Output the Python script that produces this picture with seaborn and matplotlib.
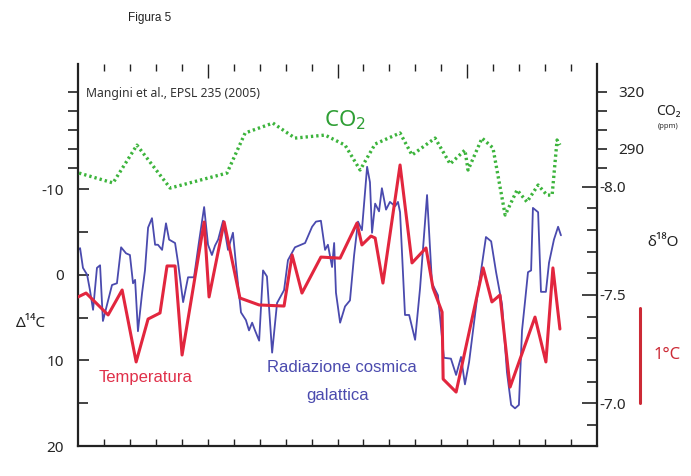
import matplotlib
matplotlib.use("Agg")
import matplotlib.pyplot as plt
import matplotlib.transforms as mtransforms
from matplotlib.ticker import FixedLocator, NullFormatter
import seaborn as sns
import pandas as pd

# ---------------- data ----------------
co2_year = [4, 135, 227, 355, 574, 644, 751, 836, 952, 1029, 1087, 1145, 1241, 1287,
            1376, 1434, 1491, 1503, 1557, 1599, 1646, 1692, 1730, 1773, 1807, 1827, 1846, 1857]
co2_ppm = [277.2, 272.0, 291.9, 269.3, 277.2, 298.3, 303.5, 295.6, 297.2, 291.9, 278.8, 292.5,
           298.3, 286.7, 295.6, 282.0, 289.3, 278.8, 295.6, 290.4, 255.1, 268.3, 262.0, 270.9,
           265.6, 265.6, 294.6, 292.0]

temp_year = [0, 31, 116, 170, 224, 270, 316, 343, 374, 401, 486, 505, 563, 624, 698, 794, 825,
             863, 936, 1010, 1075, 1094, 1129, 1145, 1175, 1241, 1287, 1341, 1368, 1403, 1407,
             1457, 1561, 1595, 1626, 1665, 1761, 1803, 1830, 1857]
temp_d18o = [-7.491, -7.509, -7.408, -7.523, -7.191, -7.389, -7.417, -7.634, -7.634, -7.223,
             -7.837, -7.491, -7.837, -7.486, -7.454, -7.449, -7.685, -7.509, -7.675, -7.670,
             -7.832, -7.731, -7.772, -7.763, -7.555, -8.100, -7.648, -7.717, -7.532, -7.421,
             -7.112, -7.052, -7.625, -7.468, -7.500, -7.075, -7.398, -7.191, -7.625, -7.343]

rad_year = [0, 8, 19, 35, 46, 58, 73, 85, 96, 116, 131, 150, 166, 185, 200, 212, 220, 231, 247,
            258, 270, 285, 297, 308, 324, 339, 351, 374, 385, 405, 424, 447, 466, 486, 501, 516,
            528, 540, 559, 578, 597, 609, 628, 647, 659, 671, 682, 698, 713, 728, 748, 767, 794,
            809, 836, 875, 902, 917, 936, 952, 963, 979, 987, 994, 1010, 1029, 1048, 1064, 1079,
            1094, 1114, 1125, 1133, 1145, 1160, 1171, 1187, 1202, 1222, 1233, 1241, 1260, 1276,
            1299, 1318, 1345, 1364, 1387, 1410, 1437, 1457, 1476, 1491, 1507, 1538, 1572, 1592,
            1611, 1634, 1653, 1669, 1684, 1699, 1711, 1723, 1734, 1746, 1753, 1773, 1784, 1803,
            1815, 1834, 1850, 1861]
rad_d14c = [-2.9, -3.1, -0.8, 0.0, 1.8, 4.1, -0.8, -1.1, 5.4, 3.0, 1.2, 1.0, -3.2, -2.5, -2.3,
            1.0, 0.6, 6.6, 2.1, -0.5, -5.5, -6.6, -3.5, -3.5, -2.9, -6.0, -4.1, -3.7, -1.5, 3.2,
            0.3, 0.3, -3.8, -7.9, -3.5, -2.3, -3.4, -4.1, -6.3, -2.9, -4.9, -1.1, 4.4, 5.3, 6.5,
            5.6, 6.5, 7.7, -0.5, 0.2, 9.1, 3.3, 1.8, -1.7, -3.2, -3.7, -5.6, -6.2, -6.3, -2.9,
            -3.5, -0.9, -3.7, 2.1, 5.6, 3.7, 3.0, -2.3, -6.2, -5.2, -12.6, -10.8, -4.9, -8.3,
            -7.4, -10.1, -7.6, -8.5, -8.0, -8.5, -7.3, 4.7, 4.7, 7.6, 1.6, -9.3, 1.0, 2.4, 9.7,
            9.8, 11.7, 9.6, 12.8, 10.2, 2.7, -4.4, -3.9, -0.3, 3.5, 11.4, 15.2, 15.6, 15.2, 6.5,
            3.0, -0.3, -0.5, -7.8, -7.3, 2.0, 2.0, -1.4, -4.1, -5.6, -4.6]

x_ticks = [500, 1000, 1500, 2000]
d14c_ticks = [-10, 0, 10, 20]
d14c_minor = [-5, 5, 15]
d18o_ticks = [-8.0, -7.5, -7.0]
d18o_minor = [-7.9, -7.8, -7.7, -7.6, -7.4, -7.3, -7.2, -7.1, -6.9]
co2_ticks = [290, 320]
co2_minor = [280, 300, 310]
scale_bar = [-7.44, -7.0]

# ---------------- style ----------------
sns.set_theme(style="white")
plt.rcParams['font.family'] = ['Noto Sans', 'DejaVu Sans']

C_RED = '#e2263e'
C_BLUE = '#4a4aae'
C_GREEN = '#3cb43c'
C_AX = '#222222'
C_LBL = '#262626'

fig = plt.figure(figsize=(6.91, 4.76), dpi=100)
ax = fig.add_axes([0.1129, 0.0630, 0.7511, 0.8025])
ax2 = ax.twinx()
ax3 = ax.twinx()

df_rad = pd.DataFrame({'year': rad_year, 'val': rad_d14c})
df_temp = pd.DataFrame({'year': temp_year, 'val': temp_d18o})
df_co2 = pd.DataFrame({'year': co2_year, 'val': co2_ppm})

sns.lineplot(data=df_rad, x='year', y='val', ax=ax, color=C_BLUE, lw=1.3, sort=False)
sns.lineplot(data=df_temp, x='year', y='val', ax=ax2, color=C_RED, lw=2.2, sort=False)
sns.lineplot(data=df_co2, x='year', y='val', ax=ax3, color=C_GREEN, lw=2.4, sort=False,
             linestyle=(0, (0.7, 0.9)))

ax.set_xlim(0, 2000)
ax.set_ylim(20, -24.6)
ax2.set_ylim(-6.803, -8.566)
ax3.set_ylim(133.5, 334.6)

for a in (ax, ax2, ax3):
    a.set_xlabel('')
    a.set_ylabel('')
    a.set_facecolor('none')
    for s in a.spines.values():
        s.set_visible(False)

ax.spines['left'].set_visible(True)
ax.spines['bottom'].set_visible(True)
ax2.spines['right'].set_visible(True)
for s in (ax.spines['left'], ax.spines['bottom'], ax2.spines['right']):
    s.set_color(C_AX)
    s.set_linewidth(1.6)

# x axis (bottom)
ax.set_xticks(x_ticks)
ax.set_xticklabels([str(v) for v in x_ticks])
ax.xaxis.set_minor_locator(FixedLocator(list(range(100, 2000, 100))))
ax.tick_params(axis='x', which='both', direction='in', length=5, width=1.0, color=C_AX,
               bottom=True, top=False, labelsize=11, pad=5, labelcolor=C_LBL)
# top ticks
secx = ax.secondary_xaxis('top')
secx.spines['top'].set_visible(False)
secx.set_xticks(x_ticks[:-1])
secx.set_xticklabels([])
secx.xaxis.set_minor_locator(FixedLocator([v for v in range(100, 2000, 100) if v % 500]))
secx.tick_params(which='major', direction='in', length=10, width=1.0, color=C_AX)
secx.tick_params(which='minor', direction='in', length=5, width=1.0, color=C_AX)

# left axis (Delta 14C)
ax.set_yticks(d14c_ticks)
ax.set_yticklabels([str(v) for v in d14c_ticks])
ax.yaxis.set_minor_locator(FixedLocator(d14c_minor))
ax.tick_params(axis='y', which='major', direction='in', length=8, width=1.2, color=C_AX,
               labelsize=11, pad=10, labelcolor=C_LBL)
ax.tick_params(axis='y', which='minor', direction='in', length=7, width=1.2, color=C_AX)

# right axis (delta 18O)
ax2.set_yticks(d18o_ticks)
ax2.set_yticklabels(['%.1f' % v for v in d18o_ticks])
ax2.yaxis.set_minor_locator(FixedLocator(d18o_minor))
ax2.tick_params(axis='y', which='major', direction='in', length=11, width=1.2, color=C_AX,
                labelsize=11, pad=2, labelcolor=C_LBL)
ax2.tick_params(axis='y', which='minor', direction='in', length=7, width=1.2, color=C_AX)

# CO2 ticks on both sides, outward
ax3.set_yticks(co2_ticks)
ax3.set_yticklabels([str(v) for v in co2_ticks])
ax3.yaxis.set_minor_locator(FixedLocator(co2_minor))
ax3.yaxis.set_minor_formatter(NullFormatter())
ax3.tick_params(axis='y', which='both', direction='out', length=7, width=1.2, color=C_AX,
                left=True, right=True, labelleft=False, labelright=True,
                labelsize=11, pad=8, labelcolor=C_LBL)
ax3.set_xticks([])

# ---------------- texts ----------------
fig.text(0.217, 0.962, 'Figura 5', ha='center', va='center', fontsize=8.5,
         family=['Liberation Sans Narrow', 'Liberation Sans'], color='#222222')
fig.text(0.1245, 0.8046, 'Mangini et al., EPSL 235 (2005)', ha='left', va='center',
         fontsize=8.8, color='#333333')
fig.text(0.499, 0.748, 'CO$_2$', ha='center', va='center', fontsize=16, color='#2f9f35')
fig.text(0.967, 0.765, 'CO₂', ha='center', va='center', fontsize=10, color='#222222')
fig.text(0.967, 0.735, '(ppm)', ha='center', va='center', fontsize=5.5, color='#333333')
fig.text(0.937, 0.490, 'δ¹⁸O', ha='left', va='center', fontsize=11, color='#222222')
fig.text(0.045, 0.321, 'Δ¹⁴C', ha='center', va='center', fontsize=11, color='#222222')
fig.text(0.966, 0.254, '1°C', ha='center', va='center', fontsize=12, color='#cc2a36')
fig.text(0.211, 0.206, 'Temperatura', ha='center', va='center', fontsize=12,
         family=['Liberation Sans', 'DejaVu Sans'], color='#e0304a')
fig.text(0.495, 0.227, 'Radiazione cosmica', ha='center', va='center', fontsize=12,
         family=['Liberation Sans', 'DejaVu Sans'], color='#4a4aae')
fig.text(0.489, 0.170, 'galattica', ha='center', va='center', fontsize=12,
         family=['Liberation Sans', 'DejaVu Sans'], color='#4a4aae')

# temperature scale bar (1 °C) in delta-18O units
bt = mtransforms.blended_transform_factory(fig.transFigure, ax2.transData)
ax2.plot([0.926, 0.926], scale_bar, transform=bt, color='#cc2a36', lw=2.2, clip_on=False)

fig.savefig('out.png', dpi=100)
